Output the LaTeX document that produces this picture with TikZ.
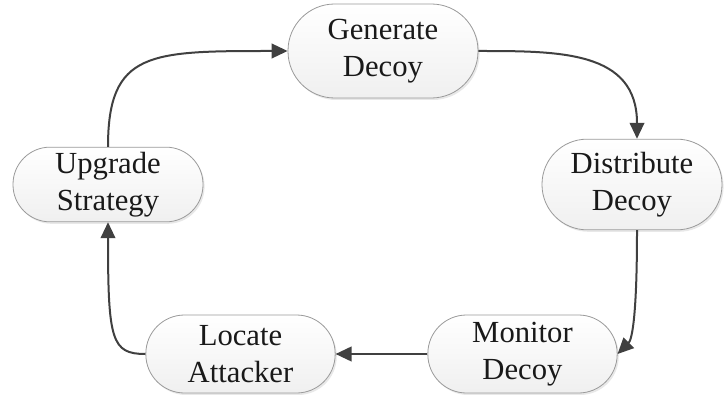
\documentclass[tikz,border=0pt]{standalone}
\usepackage{fontspec}
\setmainfont{Liberation Serif}
\usetikzlibrary{arrows.meta,shadows,calc}
\definecolor{linkgray}{HTML}{404040}
\definecolor{edgegray}{HTML}{9A9A9A}
\begin{document}
\begin{tikzpicture}[x=0.75pt,y=-0.75pt,
  stage/.style={draw=edgegray, line width=0.6pt, top color=white, bottom color=gray!12,
    align=center, inner sep=0pt, text=black!90,
    font=\fontsize{23}{27.5}\selectfont,
    drop shadow={shadow xshift=1.2pt, shadow yshift=-1.5pt, opacity=0.18}},
  link/.style={draw=linkgray, line width=1.5pt, -{Triangle[length=12pt,width=11pt]}}]
\useasboundingbox (0,0) rectangle (724,395);

% the five stages of the cycle
\node[stage, minimum width=142.5pt, minimum height=70.5pt, rounded corners=35pt] (gen) at (383,51) {Generate\\Decoy};
\node[stage, minimum width=135pt, minimum height=68pt, rounded corners=33.8pt] (dist) at (632,184.5) {Distribute\\Decoy};
\node[stage, minimum width=142.5pt, minimum height=56pt, rounded corners=27.8pt] (upg) at (108,184.5) {Upgrade\\Strategy};
\node[stage, minimum width=142pt, minimum height=58.5pt, rounded corners=29pt] (loc) at (240.5,354) {Locate\\Attacker};
\node[stage, minimum width=142pt, minimum height=58.5pt, rounded corners=29pt] (mon) at (522.5,354) {Monitor\\Decoy};

% attachment points on the Distribute stage
\coordinate (dtop) at ($(dist.north)+(5,0)$);
\coordinate (dbot) at ($(dist.south)+(5,0)$);

% connectors
\draw[link] (upg.north) .. controls (upg.north |- gen.west) and ($(upg.north |- gen.west)+(42,0)$) .. (gen.west);
\draw[link] (gen.east) .. controls ($(gen.east)+(82,0)$) and (dtop |- gen.east) .. (dtop);
\draw[link] (dbot) .. controls ($(dbot)+(0,90)$) and ($(mon.east)+(14,-14)$) .. (mon.east);
\draw[link] (mon.west) -- (loc.east);
\draw[link] (loc.west) .. controls ($(loc.west)+(-34,0)$) and ($(upg.south)+(0,118)$) .. (upg.south);
\end{tikzpicture}
\end{document}
